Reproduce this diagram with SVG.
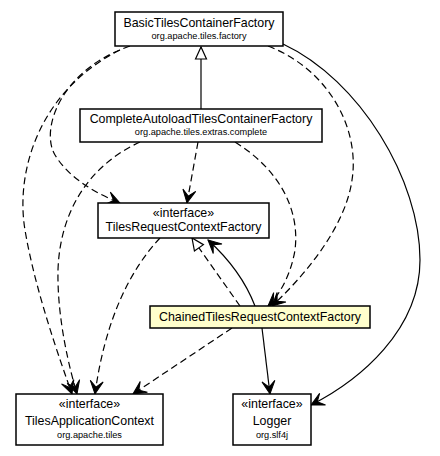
<svg xmlns="http://www.w3.org/2000/svg" width="440" height="456" viewBox="0 0 440 456">
<style>
.box{fill:#fff;stroke:#000;stroke-width:1.5}
.hl{fill:#ffffcc;stroke:#000;stroke-width:1.5}
.n{font-family:"Liberation Sans",Arial,sans-serif;font-size:12.4px;text-anchor:middle;fill:#000}
.p{font-family:"Liberation Sans",Arial,sans-serif;font-size:9.2px;text-anchor:middle;fill:#000}
.e{fill:none;stroke:#000;stroke-width:1.2}
.d{stroke-dasharray:7,4}
.a{marker-end:url(#vee)}
.t{marker-end:url(#tri)}
</style>
<defs>
<marker id="vee" markerUnits="userSpaceOnUse" markerWidth="16" markerHeight="16" viewBox="-14 -8 16 16" refX="0" refY="0" orient="auto">
<path d="M-13,-6.5 L0,0 L-13,6.5 L-7,0 Z" fill="#000" stroke="#000" stroke-width="1"/>
</marker>
<marker id="tri" markerUnits="userSpaceOnUse" markerWidth="16" markerHeight="16" viewBox="-14 -8 16 16" refX="0" refY="0" orient="auto">
<path d="M-12,-5.5 L0,0 L-12,5.5 Z" fill="#fff" stroke="#000" stroke-width="1.2"/>
</marker>
</defs>
<g id="edges">
<path class="e t" d="M201,109 L201,47"/>
<path class="e d a" d="M130,46 C60,70 40,130 55,155 C70,180 100,195 120,203"/>
<path class="e d a" d="M120,50 C40,90 15,170 25,230 C35,290 60,360 72,394"/>
<path class="e d a" d="M140,142 C90,165 60,210 58,270 C57,320 70,370 77,394"/>
<path class="e d a" d="M160,238 C130,270 105,320 95,394"/>
<path class="e d a" d="M198,142 L187,203"/>
<path class="e d a" d="M235,142 C280,170 300,210 295,250 C290,280 275,300 268,306"/>
<path class="e d a" d="M268,46 C330,70 360,130 352,180 C345,230 300,280 272,306"/>
<path class="e a" d="M283,44 C360,80 420,180 420,260 C420,330 360,380 311,405"/>
<path class="e d t" d="M240,306 L192,238"/>
<path class="e a" d="M255,306 C245,280 230,260 208,240"/>
<path class="e d a" d="M232,328 L133,394"/>
<path class="e a" d="M262,328 L270,394"/>
</g>
<g id="BasicTilesContainerFactory">
<rect class="box" x="115" y="12" width="168" height="34"/>
<text class="n" x="199" y="27">BasicTilesContainerFactory</text>
<text class="p" x="199" y="39">org.apache.tiles.factory</text>
</g>
<g id="CompleteAutoloadTilesContainerFactory">
<rect class="box" x="80" y="109" width="242" height="33"/>
<text class="n" x="201" y="123">CompleteAutoloadTilesContainerFactory</text>
<text class="p" x="201" y="135">org.apache.tiles.extras.complete</text>
</g>
<g id="TilesRequestContextFactory">
<rect class="box" x="98" y="203" width="171" height="35"/>
<text class="n" x="183.5" y="217">«interface»</text>
<text class="n" x="183.5" y="231">TilesRequestContextFactory</text>
</g>
<g id="ChainedTilesRequestContextFactory">
<rect class="hl" x="150" y="306" width="220" height="22"/>
<text class="n" x="260" y="321">ChainedTilesRequestContextFactory</text>
</g>
<g id="TilesApplicationContext">
<rect class="box" x="16" y="394" width="147" height="51"/>
<text class="n" x="89.5" y="408">«interface»</text>
<text class="n" x="89.5" y="425">TilesApplicationContext</text>
<text class="p" x="89.5" y="438">org.apache.tiles</text>
</g>
<g id="Logger">
<rect class="box" x="233" y="394" width="78" height="51"/>
<text class="n" x="272" y="408">«interface»</text>
<text class="n" x="272" y="425">Logger</text>
<text class="p" x="272" y="438">org.slf4j</text>
</g>
</svg>
